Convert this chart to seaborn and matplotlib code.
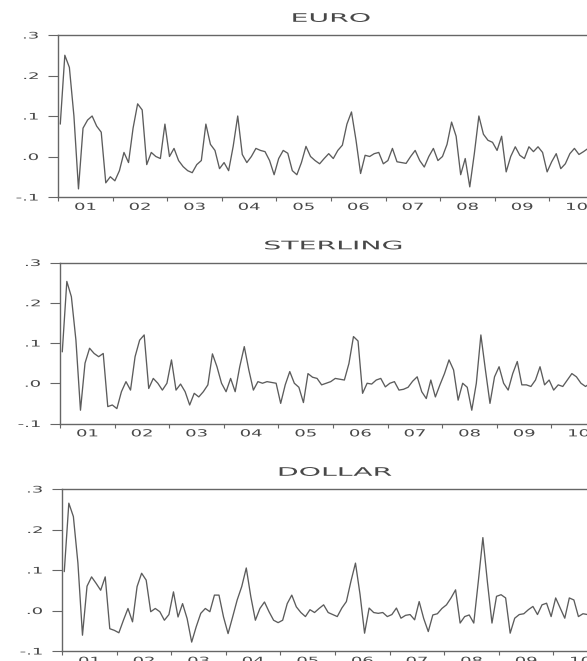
import numpy as np
import pandas as pd
import matplotlib
matplotlib.use("Agg")
import matplotlib.pyplot as plt
import seaborn as sns
from matplotlib import patheffects
from matplotlib.transforms import Affine2D

# ---------------- data (monthly, 2001M01 onwards) ----------------
year_labels = ["01", "02", "03", "04", "05", "06", "07", "08", "09", "10"]
y_ticks = [-0.1, 0.0, 0.1, 0.2, 0.3]
y_tick_labels = ["-.1", ".0", ".1", ".2", ".3"]

euro = [0.08, 0.25, 0.22, 0.10, -0.08, 0.07, 0.09, 0.10, 0.075, 0.06,
        -0.065, -0.05, -0.06, -0.035, 0.01, -0.015, 0.07, 0.13, 0.115, -0.02,
        0.01, 0.0, -0.005, 0.08, 0.0, 0.02, -0.01, -0.025, -0.035, -0.04,
        -0.02, -0.01, 0.08, 0.03, 0.015, -0.03, -0.015, -0.035, 0.025, 0.10,
        0.005, -0.015, 0.0, 0.02, 0.015, 0.012, -0.01, -0.045, -0.005, 0.015,
        0.008, -0.035, -0.045, -0.015, 0.025, 0.0, -0.01, -0.018, -0.005, 0.007,
        -0.005, 0.015, 0.028, 0.08, 0.11, 0.04, -0.042, 0.003, 0.0, 0.007,
        0.01, -0.018, -0.01, 0.02, -0.013, -0.015, -0.017, 0.0, 0.015, -0.01,
        -0.026, 0.0, 0.02, -0.01, 0.0, 0.03, 0.085, 0.05, -0.045, -0.005,
        -0.075, 0.007, 0.10, 0.055, 0.04, 0.035, 0.015, 0.05, -0.038, 0.0,
        0.024, 0.003, -0.005, 0.024, 0.012, 0.024, 0.01, -0.038, -0.013, 0.007,
        -0.03, -0.018, 0.007, 0.02, 0.005, 0.012, 0.02, 0.0, 0.01, 0.015]

sterling = [0.078, 0.253, 0.215, 0.107, -0.067, 0.05, 0.087, 0.074, 0.066, 0.074,
            -0.058, -0.054, -0.063, -0.021, 0.004, -0.017, 0.066, 0.107, 0.12, -0.013,
            0.012, 0.0, -0.017, 0.0, 0.058, -0.017, -0.002, -0.021, -0.054, -0.025,
            -0.034, -0.021, -0.004, 0.073, 0.041, 0.0, -0.021, 0.012, -0.021, 0.041,
            0.091, 0.033, -0.017, 0.004, 0.0, 0.004, 0.002, 0.0, -0.05, -0.004,
            0.029, 0.0, -0.01, -0.048, 0.024, 0.015, 0.012, -0.004, 0.0, 0.004,
            0.012, 0.01, 0.008, 0.049, 0.116, 0.105, -0.025, 0.0, -0.002, 0.008,
            0.012, -0.009, 0.0, 0.004, -0.017, -0.015, -0.01, 0.005, 0.016, -0.021,
            -0.038, 0.008, -0.034, -0.004, 0.024, 0.058, 0.033, -0.042, 0.0, -0.01,
            -0.067, 0.0, 0.12, 0.033, -0.05, 0.016, 0.041, 0.0, -0.017, 0.024,
            0.054, -0.004, -0.004, -0.008, 0.008, 0.041, -0.004, 0.008, -0.017, -0.004,
            -0.008, 0.008, 0.024, 0.016, 0.0, -0.008, 0.0, 0.01, 0.005, 0.0]

dollar = [0.096, 0.265, 0.232, 0.117, -0.061, 0.06, 0.083, 0.067, 0.05, 0.083,
          -0.045, -0.049, -0.055, -0.024, 0.005, -0.028, 0.059, 0.092, 0.075, -0.003,
          0.005, -0.003, -0.024, -0.01, 0.046, -0.016, 0.017, -0.02, -0.078, -0.04,
          -0.007, 0.005, -0.003, 0.038, 0.038, -0.016, -0.057, -0.016, 0.026, 0.059,
          0.105, 0.034, -0.024, 0.005, 0.021, -0.003, -0.024, -0.03, -0.024, 0.017,
          0.038, 0.009, -0.005, -0.015, 0.002, -0.005, 0.005, 0.014, -0.005, -0.01,
          -0.015, 0.006, 0.022, 0.072, 0.117, 0.04, -0.056, 0.006, -0.005, -0.007,
          -0.005, -0.015, -0.01, 0.006, -0.019, -0.012, -0.01, -0.023, 0.022, -0.02,
          -0.052, -0.011, -0.008, 0.005, 0.014, 0.031, 0.051, -0.031, -0.015, -0.011,
          -0.031, 0.072, 0.18, 0.07, -0.031, 0.035, 0.039, 0.031, -0.056, -0.019,
          -0.01, -0.008, 0.002, 0.01, -0.01, 0.014, 0.018, -0.015, 0.031, 0.006,
          -0.019, 0.031, 0.026, -0.015, -0.008, -0.01, 0.005, 0.01, 0.0, 0.005]

series = {"EURO": euro, "STERLING": sterling, "DOLLAR": dollar}


# --------- horizontally stretched text (scanned EViews look) ---------
class HStretch(patheffects.AbstractPathEffect):
    def __init__(self, sx, anchor="center"):
        super().__init__()
        self.sx = sx
        self.anchor = anchor

    def draw_path(self, renderer, gc, tpath, affine, rgbFace=None):
        ext = tpath.get_extents()
        if self.anchor == "right":
            a = ext.x1
        elif self.anchor == "left":
            a = ext.x0
        else:
            a = 0.5 * (ext.x0 + ext.x1)
        t = Affine2D().translate(-a, 0).scale(self.sx, 1.0).translate(a, 0)
        renderer.draw_path(gc, tpath, t + affine, rgbFace)


sns.set_style("ticks")
plt.rcParams["font.family"] = ["DejaVu Sans"]

W, H = 587, 661
fig = plt.figure(figsize=(W / 100, H / 100), dpi=100)
fig.patch.set_facecolor("white")

# (left, top, bottom) in pixels for each panel; panels run past the right edge (cropped scan)
layout = {"EURO": (58, 35, 197), "STERLING": (60, 262.5, 423.5), "DOLLAR": (62, 489, 651)}
plot_w = 546

txt_col = "#484848"
line_col = "#5c5c5c"
spine_col = "#666666"

for name, vals in series.items():
    left, top, bottom = layout[name]
    ax = fig.add_axes([left / W, 1 - bottom / H, plot_w / W, (bottom - top) / H])
    df = pd.DataFrame({"month": np.arange(len(vals)), "value": vals})
    sns.lineplot(data=df, x="month", y="value", ax=ax, color=line_col, linewidth=0.95)

    ax.set_xlim(-0.5, 119.5)
    ax.set_ylim(-0.1, 0.3)
    ax.set_xlabel("")
    ax.set_ylabel("")

    # year boundaries as small tick marks, labels centred in each year
    ax.set_xticks([12 * k - 0.5 for k in range(len(year_labels) + 1)])
    ax.set_xticklabels([])
    ax.set_xticks([12 * k + 5.5 for k in range(len(year_labels))], labels=year_labels, minor=True)
    ax.tick_params(axis="x", which="major", length=3, width=0.8, color=spine_col, direction="out")
    ax.tick_params(axis="x", which="minor", length=0, pad=3.5, labelsize=7, labelcolor=txt_col)

    ax.set_yticks(y_ticks, labels=y_tick_labels)
    ax.tick_params(axis="y", length=7, width=0.8, color=spine_col, pad=7,
                   labelsize=6.5, labelcolor=txt_col, direction="out")

    for lab in ax.get_xticklabels(minor=True):
        lab.set_path_effects([HStretch(1.85, "center")])
    for lab in ax.get_yticklabels():
        lab.set_path_effects([HStretch(2.0, "right")])

    for sp in ax.spines.values():
        sp.set_color(spine_col)
        sp.set_linewidth(1.0)

    t = ax.set_title(name, fontsize=8.5, color=txt_col, pad=9.5)
    t.set_path_effects([HStretch(2.4, "center")])
    ax.grid(False)

fig.savefig("out.png", dpi=100, facecolor="white")
